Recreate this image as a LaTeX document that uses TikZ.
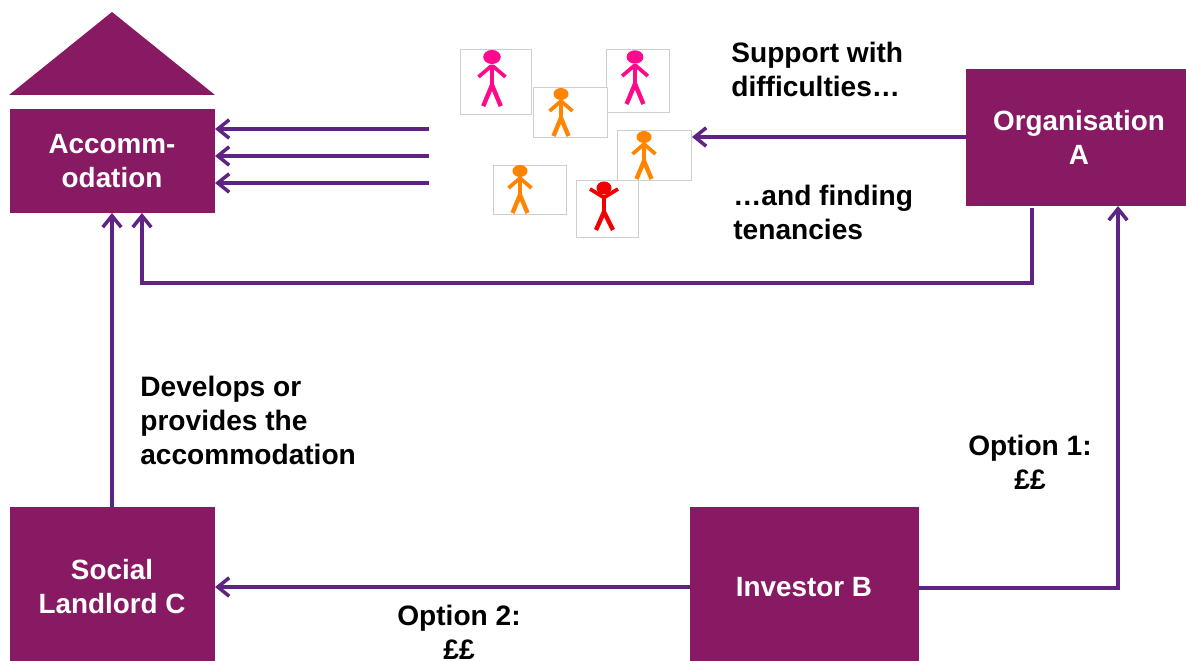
\documentclass[tikz,border=0pt]{standalone}
\usepackage{fontspec}
\setmainfont{Liberation Sans}
\usetikzlibrary{arrows.meta}
\definecolor{boxplum}{HTML}{871A63}
\definecolor{linkpurple}{HTML}{5F2483}
\definecolor{framegray}{HTML}{CFCFCF}
\definecolor{manpink}{HTML}{FF0A8C}
\definecolor{manorange}{HTML}{FF8500}
\definecolor{manred}{HTML}{F00000}
\tikzset{
  box/.style={draw=boxplum,fill=boxplum,text=white,font=\fontsize{15.85}{19.4}\selectfont\bfseries,align=center,inner sep=0pt},
  lbl/.style={font=\fontsize{16}{19.4}\selectfont\bfseries,align=left,anchor=west,inner sep=0pt},
  lblc/.style={font=\fontsize{16}{19.4}\selectfont\bfseries,align=center,inner sep=0pt},
  link/.style={draw=linkpurple,line width=2.1pt,-{Straight Barb[length=6.5pt,width=10.5pt,line width=2pt]}},
  frame/.style={draw=framegray,line width=0.5pt,fill=white,inner sep=0pt},
}
% head x, head y, colour, size
\newcommand{\walker}[4]{
\begin{scope}[shift={(#1,#2)},scale=#4]
\fill[#3] (0,0) ellipse (7.5 and 6);
\draw[#3,line width=2.1pt] (-11.5,17) -- (-1,8) -- (1,8) -- (11.5,17);
\draw[#3,line width=2.7pt] (0,8) -- (0,24);
\draw[#3,line width=2.5pt] (-7.5,42) -- (0,24) -- (7.5,42);
\end{scope}
}
\begin{document}
\begin{tikzpicture}[x=0.02cm,y=-0.02cm]
\useasboundingbox (0,0) rectangle (1186,661);

\fill[boxplum] (9,95) -- (112,12) -- (215,95) -- cycle;
\node[box,minimum width=204*0.02cm,minimum height=103*0.02cm] (acc) at (112,161) {Accomm-\\odation};
\node[box,minimum width=226*0.02cm,minimum height=136*0.02cm] (org) at (1079,137) {Organisation\\A};
\node[box,minimum width=204*0.02cm,minimum height=160*0.02cm] (soc) at (112,587) {Social\\Landlord C};
\node[box,minimum width=228*0.02cm,minimum height=160*0.02cm] (inv) at (804,587) {Investor B};

\node[frame,minimum width=71*0.02cm,minimum height=65*0.02cm] (f1) at (495.5,81.5) {};
\node[frame,minimum width=63*0.02cm,minimum height=63*0.02cm] (f3) at (637.5,80.5) {};
\node[frame,minimum width=74*0.02cm,minimum height=50*0.02cm] (f2) at (570,112) {};
\node[frame,minimum width=74*0.02cm,minimum height=50*0.02cm] (f4) at (654,155) {};
\node[frame,minimum width=73*0.02cm,minimum height=49*0.02cm] (f5) at (529.5,189.5) {};
\node[frame,minimum width=62*0.02cm,minimum height=57*0.02cm] (f6) at (607,208.5) {};

\walker{492}{57}{manpink}{1.17}
\walker{635}{57}{manpink}{1.12}
\walker{561}{94}{manorange}{1}
\walker{644}{137}{manorange}{1}
\walker{520}{171}{manorange}{1}
% arms up for this one
\fill[manred] (604,188) ellipse (7.5 and 6.5);
\draw[manred,line width=2.1pt] (590,189) -- (603,197) -- (605,197) -- (618,189);
\draw[manred,line width=2.7pt] (604,196) -- (604,212);
\draw[manred,line width=2.5pt] (596,230) -- (604,212) -- (613,230);

\node[lbl] (supp) at (731,69.5) {Support with\\difficulties…};
\node[lbl] (tena) at (733,212.5) {…and finding\\tenancies};
\node[lbl] (dev) at (140,420.5) {Develops or\\provides the\\accommodation};
\node[lblc] (opt1) at (1030,462.5) {Option 1:\\££};
\node[lblc] (opt2) at (459,632.5) {Option 2:\\££};

\coordinate (t1) at (429,129);
\coordinate (t2) at (429,156);
\coordinate (t3) at (429,183);
\coordinate (a1) at (215,129);
\coordinate (a2) at (215,156);
\coordinate (a3) at (215,183);
\draw[link] (t1) -- (a1);
\draw[link] (t2) -- (a2);
\draw[link] (t3) -- (a3);

\coordinate (o1) at (966,137);
\coordinate (p1) at (692,137);
\draw[link] (o1) -- (p1);

\coordinate (o2) at (1032,208);
\coordinate (a4) at (142,213);
\draw[link] (o2) -- (1032,283) -- (142,283) -- (a4);

\coordinate (s1) at (112,507);
\coordinate (a5) at (112,213);
\draw[link] (s1) -- (a5);

\coordinate (i1) at (690,587);
\coordinate (s2) at (215,587);
\draw[link] (i1) -- (s2);

\coordinate (i2) at (918,588);
\coordinate (o3) at (1118,206);
\draw[link] (i2) -- (1118,588) -- (o3);
\end{tikzpicture}
\end{document}
